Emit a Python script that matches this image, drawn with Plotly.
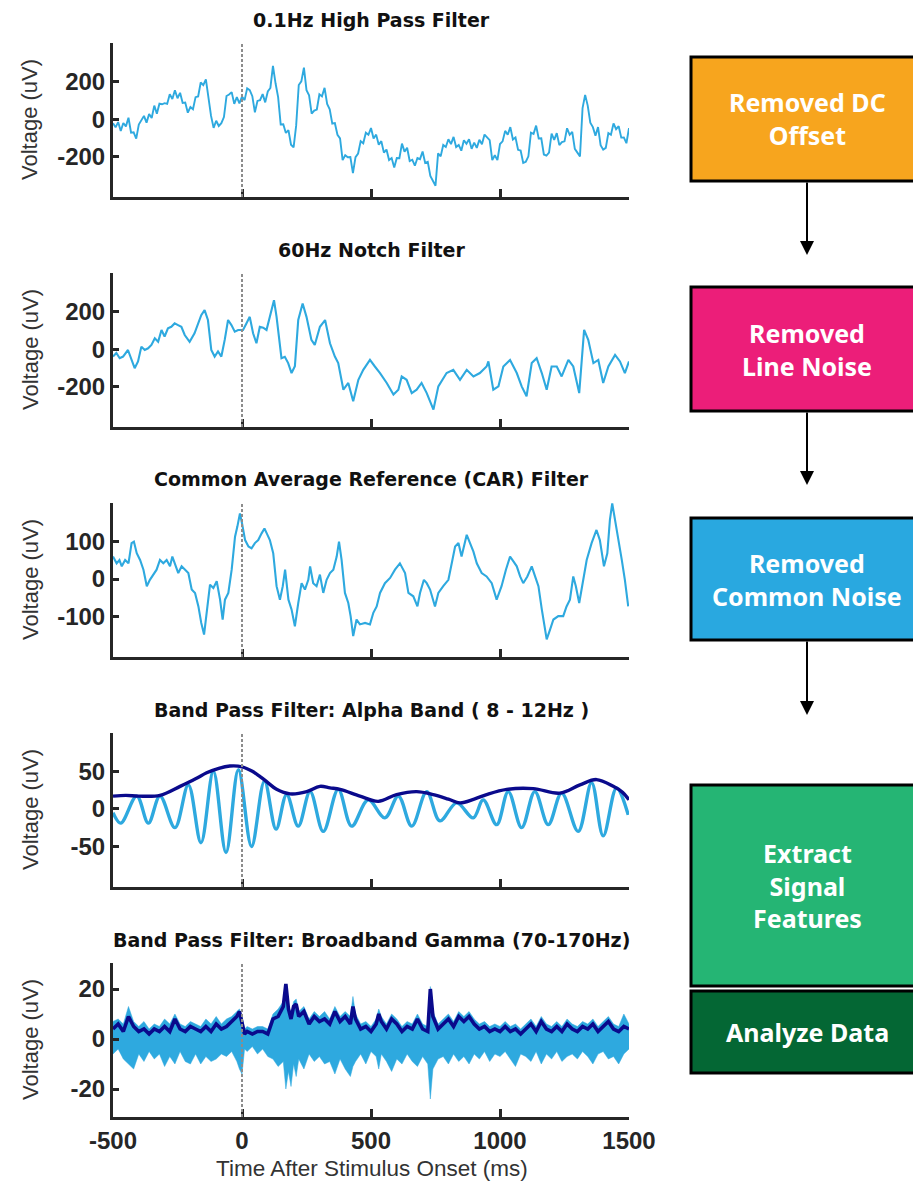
import plotly.graph_objects as go

W, H = 913, 1190

# ---------------- signal data (time in ms, voltage in uV) ----------------
hp_t = list(range(-500, 1501, 10))
hp_v = [-21, -43, -15, -63, -20, -38, 8, -72, -70, -103, -28, -4, 18, -18, 28, 7, 73, 29, 83, 80,
        86, 82, 134, 108, 155, 112, 141, 87, 89, 35, 65, 53, 118, 122, 196, 182, 213, 115, 18, -46,
        -8, -36, -21, 12, 124, 132, 145, 82, 118, 85, 121, 102, 165, 155, 123, 37, 98, 102, 134, 90,
        148, 167, 285, 192, 118, -28, -27, -73, -58, -136, -150, -33, 183, 202, 275, 155, 128, 30, 46, 52,
        133, 122, 168, 82, 53, -23, -21, -83, -102, -218, -192, -203, -202, -288, -202, -183, -117, -128, -72, -83,
        -47, -103, -82, -136, -117, -178, -162, -218, -207, -258, -207, -208, -130, -173, -152, -223, -216, -248, -207, -213,
        -172, -233, -227, -303, -330, -355, -182, -198, -137, -148, -107, -133, -94, -148, -137, -168, -112, -131, -107, -158,
        -125, -153, -110, -133, -82, -98, -112, -218, -192, -218, -132, -118, -62, -83, -42, -108, -97, -163, -167, -233,
        -227, -198, -72, -78, -34, -103, -102, -188, -194, -178, -77, -110, -74, -138, -122, -118, -48, -83, -67, -158,
        -182, -198, 60, 130, 73, -18, -42, -88, -42, -138, -162, -153, -74, -83, -22, -53, -37, -98, -97, -128, -47]

notch_t = [-500, -487, -474, -461, -442, -429, -416, -403, -390, -377, -364, -351, -338, -325, -312, -300, -287,
           -274, -261, -248, -235, -222, -203, -184, -171, -158, -145, -132, -119, -106, -93, -80, -67, -54, -41,
           -28, -15, 4, 17, 30, 43, 56, 69, 82, 95, 108, 124, 134, 153, 166, 179, 192, 205, 218, 235, 250, 269,
           282, 302, 322, 341, 360, 373, 393, 412, 431, 451, 470, 496, 515, 535, 561, 587, 606, 619, 638, 658,
           677, 696, 716, 742, 761, 793, 819, 845, 871, 897, 922, 948, 955, 974, 994, 1013, 1039, 1065, 1084,
           1103, 1123, 1142, 1162, 1181, 1200, 1220, 1239, 1265, 1284, 1307, 1326, 1342, 1362, 1381, 1400,
           1420, 1446, 1465, 1484, 1500]
notch_v = [-39, -20, -48, -39, -4, -57, -101, -65, 14, -4, 5, 23, 58, 40, 103, 68, 112, 120, 138, 129, 120,
           76, 40, 85, 138, 182, 209, 156, -4, -39, -12, -39, 50, 156, 129, 94, 103, 103, 138, 173, 85, 32,
           120, 115, 103, 173, 262, 173, -48, -40, -74, -127, -90, 156, 244, 173, 50, 23, 120, 156, 32, -39,
           -74, -216, -180, -278, -163, -110, -57, -92, -127, -180, -242, -216, -145, -163, -234, -216, -180,
           -234, -322, -198, -127, -110, -163, -110, -145, -127, -92, -65, -216, -198, -92, -57, -127, -198,
           -251, -74, -48, -127, -216, -92, -92, -145, -57, -92, -234, 103, 50, -74, -57, -180, -92, -30,
           -65, -127, -65]

car_t = [-500, -486, -475, -466, -453, -440, -428, -419, -408, -395, -382, -369, -357, -344, -331, -318, -305,
         -292, -279, -270, -260, -247, -234, -221, -208, -195, -182, -169, -158, -147, -137, -124, -111, -98,
         -85, -75, -66, -53, -40, -27, -18, -8, 0, 12, 25, 37, 50, 63, 76, 87, 96, 108, 121, 134, 147, 158,
         167, 180, 192, 205, 218, 231, 244, 257, 264, 276, 289, 302, 315, 328, 341, 354, 367, 376, 386, 399,
         412, 421, 431, 444, 457, 477, 496, 509, 522, 535, 554, 574, 593, 612, 632, 645, 664, 680, 690, 705,
         716, 729, 748, 761, 780, 800, 813, 826, 839, 851, 871, 884, 897, 910, 929, 948, 968, 987, 1006, 1023,
         1039, 1052, 1065, 1078, 1090, 1106, 1123, 1136, 1149, 1162, 1181, 1194, 1207, 1226, 1245, 1258, 1271,
         1284, 1294, 1307, 1323, 1336, 1355, 1374, 1387, 1403, 1416, 1426, 1435, 1446, 1459, 1472, 1484, 1497]
car_v = [60, 42, 51, 34, 51, 42, 96, 100, 69, 51, 25, -19, -2, 12, 25, 51, 42, 51, 34, 60, 42, 16, 34, 25,
         16, -28, -37, -73, -117, -148, -90, -15, -24, -6, -55, -108, -55, -37, 25, 113, 140, 175, 149, 104,
         87, 82, 96, 104, 122, 135, 122, 104, 69, -19, -55, -19, 25, -55, -81, -126, -64, -11, -28, -2, 34,
         -11, -19, 12, -37, -2, 16, 25, 60, 100, 51, -37, -64, -99, -152, -108, -121, -117, -121, -90, -73,
         -37, -11, 3, 25, 42, 16, -37, -46, -73, -37, -2, -11, -28, -73, -37, -19, -2, 42, 87, 96, 60, 118,
         96, 73, 42, 16, 7, -11, -55, -19, 25, 60, 47, 34, 7, -11, 7, 34, 7, -19, -81, -161, -135, -108, -99,
         -99, -73, -55, 7, -19, -64, -2, 51, 96, 131, 104, 34, 69, 158, 202, 158, 113, 51, -2, -73]

# alpha band: successive peaks and troughs of the filtered trace
alpha_t = [-500, -470, -408, -363, -318, -260, -208, -159, -111, -62, -14, 37, 87, 132, 173, 218, 264, 315,
           373, 425, 489, 554, 606, 658, 716, 767, 832, 896, 935, 987, 1032, 1084, 1135, 1187, 1239, 1303,
           1355, 1400, 1452, 1497]
alpha_v = [-5, -19, 17, -19, 17, -25, 32, -45, 50, -58, 52, -50, 37, -27, 19, -23, 23, -30,
           26, -23, 12, -12, 17, -23, 23, -16, 8, -12, 12, -21, 23, -25, 23, -21, 21, -30,
           35, -36, 28, -8]
alpha_env_t = [-500, -450, -400, -318, -240, -180, -137, -90, -47, 0, 40, 70, 100, 134, 186, 251, 302, 341,
               380, 457, 528, 599, 677, 741, 800, 845, 900, 948, 1026, 1129, 1232, 1310, 1374, 1439, 1475, 1500]
alpha_env_v = [17, 18, 17, 18, 30, 40, 48, 54, 57, 56, 50, 43, 35, 26, 20, 23, 30, 28,
               26, 17, 10, 19, 23, 19, 13, 8, 13, 19, 26, 27, 21, 32, 39, 30, 22, 12]

gam_t = [-500, -480, -460, -440, -420, -400, -380, -360, -340, -320, -300, -280, -260, -240, -220, -200,
         -180, -160, -140, -120, -100, -80, -60, -40, -20, -10, 0, 10, 20, 40, 60, 80, 100, 120, 140, 160,
         170, 180, 190, 200, 210, 220, 240, 260, 280, 300, 320, 340, 360, 380, 400, 420, 430, 440, 460, 480,
         500, 520, 530, 540, 560, 580, 600, 620, 640, 660, 680, 700, 720, 730, 740, 760, 780, 800, 820, 840,
         860, 880, 900, 920, 940, 960, 980, 1000, 1020, 1040, 1060, 1080, 1100, 1120, 1140, 1160, 1180, 1200,
         1220, 1240, 1260, 1280, 1300, 1320, 1340, 1360, 1380, 1400, 1420, 1440, 1460, 1480, 1500]
gam_env = [4, 6, 3, 9, 5, 3, 4, 2, 4, 3, 5, 3, 8, 4, 3, 5, 4, 3, 5, 3, 6, 4, 5, 7, 9, 11, 7, 2, 3, 2, 3,
           3, 2, 8, 9, 13, 22, 12, 8, 13, 14, 9, 11, 6, 9, 7, 8, 6, 11, 7, 9, 6, 13, 8, 4, 5, 3, 6, 10, 7, 4,
           8, 6, 3, 5, 4, 8, 4, 3, 20, 9, 4, 6, 8, 5, 9, 7, 9, 6, 4, 5, 3, 4, 3, 5, 3, 4, 2, 4, 6, 3, 7, 4, 3,
           5, 3, 6, 4, 3, 5, 4, 6, 3, 5, 7, 4, 3, 5, 4]
gam_hi = [7, 8, 6, 13, 7, 5, 7, 4, 6, 5, 8, 6, 10, 6, 5, 7, 6, 5, 8, 6, 9, 6, 8, 9, 11, 12, 9, 4, 5, 4, 5,
          5, 4, 10, 12, 15, 22, 14, 10, 15, 16, 11, 13, 8, 11, 9, 11, 8, 13, 9, 11, 9, 17, 10, 6, 7, 5, 8, 12,
          9, 6, 10, 8, 5, 7, 6, 10, 6, 5, 21, 11, 6, 8, 10, 7, 11, 9, 11, 8, 6, 7, 5, 6, 5, 7, 5, 6, 4, 6, 8,
          5, 9, 6, 5, 7, 5, 8, 6, 5, 7, 6, 8, 5, 7, 9, 6, 5, 10, 6]
gam_lo = [-6, -4, -8, -10, -12, -6, -9, -5, -8, -6, -11, -7, -10, -5, -9, -10, -6, -10, -7, -9, -8, -6, -7,
          -5, -9, -12, -14, -4, -5, -3, -6, -4, -7, -8, -11, -9, -20, -13, -19, -10, -15, -8, -12, -6, -9, -7,
          -10, -9, -14, -8, -12, -15, -11, -9, -6, -10, -5, -7, -12, -6, -9, -13, -8, -10, -6, -9, -11, -7,
          -10, -24, -12, -8, -7, -10, -6, -9, -7, -10, -6, -8, -5, -9, -6, -7, -5, -8, -11, -6, -7, -9, -5,
          -10, -6, -8, -5, -9, -7, -6, -8, -5, -7, -10, -6, -5, -8, -7, -10, -6, -4]

titles = ["0.1Hz High Pass Filter", "60Hz Notch Filter", "Common Average Reference (CAR) Filter",
          "Band Pass Filter: Alpha Band ( 8 - 12Hz )", "Band Pass Filter: Broadband Gamma (70-170Hz)"]
y_ranges = [[-415, 407], [-415, 407], [-208, 203], [-104, 101], [-31.2, 30.4]]
y_ticks = [[-200, 0, 200], [-200, 0, 200], [-100, 0, 100], [-50, 0, 50], [-20, 0, 20]]
x_ticks = [-500, 0, 500, 1000, 1500]

steps = ["Removed DC<br>Offset", "Removed<br>Line Noise", "Removed<br>Common Noise",
         "Extract<br>Signal<br>Features", "Analyze Data"]
step_colors = ["#F7A51E", "#EC1E79", "#29A8E0", "#25B574", "#046734"]

# ---------------- layout geometry (pixels) ----------------
PX0, PX1 = 113, 629
ROWS = [(43, 197), (273, 427), (503, 657), (733, 887), (963, 1117)]
TITLE_Y = [20, 250, 479, 710, 940]
BOXES = [(57, 181), (287, 411), (518, 640), (785, 986), (991, 1073)]
BOX_X0, BOX_X1, ARROW_X = 691, 924, 807
ARROWS = [(181, 255), (411, 485), (640, 715)]

LIGHT = "#2EA9DF"
DARK = "#0A0A8C"
AX = "#262626"
FONT = "Liberation Sans, Arial, sans-serif"
TITLE_FONT = "DejaVu Sans, sans-serif"


def px(x):
    return x / W


def py(y):
    return 1 - y / H


def labels(vals):
    # plain hyphen-minus for negative tick labels
    return [str(v) for v in vals]


fig = go.Figure()

fig.add_trace(go.Scatter(x=hp_t, y=hp_v, mode="lines", line=dict(color=LIGHT, width=1.9),
                         xaxis="x", yaxis="y"))
fig.add_trace(go.Scatter(x=notch_t, y=notch_v, mode="lines", line=dict(color=LIGHT, width=2.1),
                         xaxis="x2", yaxis="y2"))
fig.add_trace(go.Scatter(x=car_t, y=car_v, mode="lines", line=dict(color=LIGHT, width=2.1),
                         xaxis="x3", yaxis="y3"))
fig.add_trace(go.Scatter(x=alpha_t, y=alpha_v, mode="lines", line=dict(color=LIGHT, width=3.4, shape="spline"),
                         xaxis="x4", yaxis="y4"))
fig.add_trace(go.Scatter(x=alpha_env_t, y=alpha_env_v, mode="lines",
                         line=dict(color=DARK, width=3.4, shape="spline"), xaxis="x4", yaxis="y4"))
fig.add_trace(go.Scatter(x=gam_t, y=gam_lo, mode="lines", line=dict(color=LIGHT, width=0.5),
                         xaxis="x5", yaxis="y5"))
fig.add_trace(go.Scatter(x=gam_t, y=gam_hi, mode="lines", line=dict(color=LIGHT, width=0.5),
                         fill="tonexty", fillcolor=LIGHT, xaxis="x5", yaxis="y5"))
fig.add_trace(go.Scatter(x=gam_t, y=gam_env, mode="lines", line=dict(color=DARK, width=3.6),
                         xaxis="x5", yaxis="y5"))

layout = dict(width=W, height=H, margin=dict(l=0, r=0, t=0, b=0, autoexpand=False), showlegend=False,
              paper_bgcolor="white", plot_bgcolor="white", font=dict(family=FONT, color=AX))
annotations = []
shapes = []

for i, (top, bot) in enumerate(ROWS):
    n = "" if i == 0 else str(i + 1)
    layout["xaxis" + n] = dict(domain=[px(PX0), px(PX1)], anchor="y" + n, range=[-500, 1500],
                               tickvals=x_ticks, ticktext=labels(x_ticks), ticks="inside", ticklen=8,
                               tickwidth=2.5, tickcolor=AX,
                               showline=True, linecolor=AX, linewidth=3, showgrid=False, zeroline=False,
                               showticklabels=(i == 4), automargin=False,
                               tickfont=dict(size=24, family=FONT, color=AX, weight="bold"))
    layout["yaxis" + n] = dict(domain=[py(bot), py(top)], anchor="x" + n, range=y_ranges[i],
                               tickvals=y_ticks[i], ticktext=labels(y_ticks[i]), ticks="inside", ticklen=6,
                               tickwidth=2.5, tickcolor=AX,
                               showline=True, linecolor=AX, linewidth=3, showgrid=False, zeroline=False,
                               automargin=False,
                               tickfont=dict(size=24, family=FONT, color=AX, weight="bold"))
    annotations.append(dict(text=titles[i], x=px((PX0 + PX1) / 2), y=py(TITLE_Y[i]), xref="paper",
                            yref="paper", showarrow=False, xanchor="center", yanchor="middle",
                            font=dict(size=19, family=TITLE_FONT, color="#111", weight="bold")))
    annotations.append(dict(text="Voltage (uV)", x=px(30), y=py((top + bot) / 2), xref="paper",
                            yref="paper", showarrow=False, textangle=-90, xanchor="center",
                            yanchor="middle", font=dict(size=22, family=FONT, color="#333")))
    shapes.append(dict(type="line", xref="x" + n, yref="y" + n + " domain", x0=0, x1=0, y0=0, y1=1,
                       line=dict(color="#8C8C8C", width=2, dash="3px,2px"), layer="above"))

annotations.append(dict(text="Time After Stimulus Onset (ms)", x=px(372), y=py(1168), xref="paper",
                        yref="paper", showarrow=False, xanchor="center", yanchor="middle",
                        font=dict(size=22.5, family=FONT, color="#333")))

# flow chart of processing steps
for (top, bot), label, col in zip(BOXES, steps, step_colors):
    shapes.append(dict(type="rect", xref="paper", yref="paper", x0=px(BOX_X0), x1=px(BOX_X1),
                       y0=py(bot), y1=py(top), fillcolor=col, line=dict(color="black", width=3),
                       layer="above"))
    annotations.append(dict(text=label, x=px(ARROW_X), y=py((top + bot) / 2), xref="paper", yref="paper",
                            showarrow=False, xanchor="center", yanchor="middle",
                            font=dict(size=25, family="Noto Sans, sans-serif", color="white", weight="bold")))

for (y0, y1) in ARROWS:
    annotations.append(dict(x=px(ARROW_X), y=py(y1), xref="paper", yref="paper", ax=0, ay=-(y1 - y0),
                            showarrow=True, arrowhead=2, arrowsize=1.4, arrowwidth=2, arrowcolor="black",
                            standoff=0, text=""))

layout["annotations"] = annotations
layout["shapes"] = shapes
fig.update_layout(**layout)
fig.write_html("out.html")
